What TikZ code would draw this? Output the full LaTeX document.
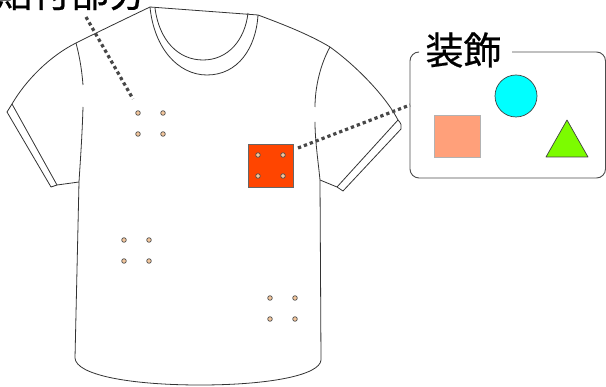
\documentclass[tikz,border=0pt]{standalone}
\usepackage{fontspec}
\newfontfamily\jpfont[FakeBold=0.6]{Noto Sans CJK JP}
\definecolor{salmonfill}{HTML}{FFA07A}
\definecolor{limefill}{HTML}{7CFC00}
\definecolor{aquafill}{HTML}{00FFFF}
\definecolor{patchfill}{HTML}{FF4500}
\definecolor{holefill}{HTML}{F3C69C}
\begin{document}
\begin{tikzpicture}[x=1pt,y=-1pt,
  shirt/.style={draw=black!80, line width=0.8pt, line join=round},
  leader/.style={draw=black!72, line width=3.2pt, dash pattern=on 3.3pt off 3pt},
  hole/.style={circle, draw=black!70, fill=holefill, line width=0.7pt,
               minimum size=4.6pt, inner sep=0pt},
  patch/.style={draw=black!60, fill=patchfill, line width=0.8pt,
                minimum width=45pt, minimum height=43pt, inner sep=0pt},
  panel/.style={draw=black!70, line width=0.9pt, rounded corners=9pt},
  caption/.style={font=\jpfont\fontsize{38}{40}\selectfont, inner sep=0pt}]
\useasboundingbox (0,0) rectangle (606,387);

% ---- T-shirt outline ----
% collar
\draw[shirt] (150,7) -- (258,15);
\draw[shirt] (150,7) .. controls (154,48) and (178,75) .. (207,75)
                     .. controls (238,75) and (256,48) .. (258,15);
\draw[shirt] (155,8) .. controls (159,40) and (178,60) .. (203,60)
                     .. controls (228,60) and (245,40) .. (248,13);
% left shoulder, sleeve and cuff
\draw[shirt] (150,7) .. controls (125,19) and (100,31) .. (76,43)
             .. controls (50,56) and (26,80) .. (12,104)
             -- (7,112) -- (51,187) -- (57,185) -- (79,182);
\draw[shirt] (12,104) -- (57,185);
% right shoulder, sleeve and cuff
\draw[shirt] (258,15) .. controls (285,25) and (310,35) .. (330,47)
             .. controls (355,65) and (385,95) .. (398,120)
             .. controls (401,123) and (402,126) .. (401,129)
             -- (343,191) -- (337,187) -- (320,180);
\draw[shirt] (398,120) -- (337,187);
% armhole seams
\draw[shirt] (76,43) .. controls (80,58) and (82,72) .. (83,85);
\draw[shirt] (330,47) .. controls (320,65) and (315,88) .. (315,107);
% body sides and hem
\draw[shirt] (83,107) .. controls (82,140) and (80,165) .. (79,182)
             -- (75,358) .. controls (76,375) and (130,385) .. (200,385)
             .. controls (270,385) and (320,375) .. (321,360)
             -- (320,180) .. controls (318,160) and (315,140) .. (315,122);

% ---- attachment holes ----
\foreach \gx/\gy/\g in {138/113/a, 124/240/b, 270/298/c}{
  \node[hole] (\g1) at (\gx,\gy) {};
  \node[hole] (\g2) at (\gx+25,\gy) {};
  \node[hole] (\g3) at (\gx,\gy+21) {};
  \node[hole] (\g4) at (\gx+25,\gy+21) {};
}

% ---- decoration patch on the chest ----
\node[patch] (patch) at (270.5,165.5) {};
\node[hole] (p1) at (258,155) {};
\node[hole] (p2) at (283,155) {};
\node[hole] (p3) at (258,176) {};
\node[hole] (p4) at (283,176) {};

% ---- decoration panel ----
\draw[panel] (418,52) -- (410,52) -- (410,178) -- (605.5,178) -- (605.5,52) -- (512,52);
\coordinate (panelin) at (410,105);
\node[caption, anchor=center] (decolabel) at (463.5,50) {装飾};
\node[draw=black!30, fill=salmonfill, line width=0.8pt, minimum width=46pt,
      minimum height=42pt, inner sep=0pt] (sq) at (457,136) {};
\node[circle, draw=black!75, fill=aquafill, line width=0.7pt, minimum size=42pt,
      inner sep=0pt] (disc) at (516,96) {};
\draw[draw=black!75, fill=limefill, line width=0.7pt, line join=round]
  (567,120) -- (588,157) -- (546,157) -- cycle;

% ---- mounting-part caption ----
\node[caption, anchor=base east] (mountlabel) at (147,7) {貼付部分};
\coordinate (mounttop) at (86,17);
\coordinate (mountend) at (133,99);

% ---- leader lines ----
\draw[leader] (mounttop) -- (mountend);
\coordinate (patchout) at (298,148);
\draw[leader] (patchout) -- (panelin);
\end{tikzpicture}
\end{document}
